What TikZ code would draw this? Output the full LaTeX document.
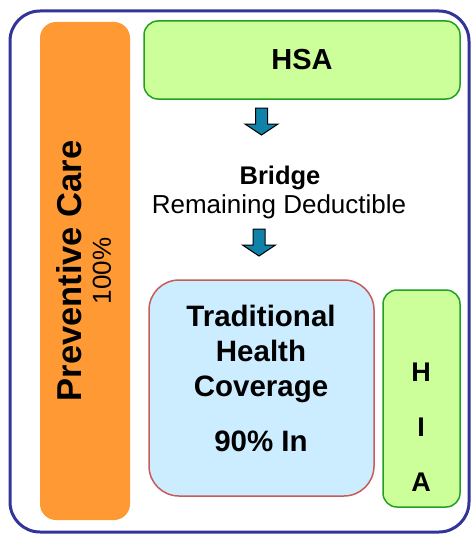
\documentclass[tikz,border=0pt]{standalone}
\usepackage{fontspec}
\setmainfont{Liberation Sans}
\usepackage{tikz}
\usetikzlibrary{positioning}

\definecolor{frameblue}{RGB}{51,51,153}
\definecolor{careorange}{RGB}{255,153,51}
\definecolor{hsafill}{RGB}{204,255,153}
\definecolor{hsaline}{RGB}{34,160,34}
\definecolor{tradfill}{RGB}{204,236,255}
\definecolor{tradline}{RGB}{200,90,90}
\definecolor{arrowblue}{RGB}{16,130,170}

\begin{document}
\begin{tikzpicture}[x = 1pt, y = -1pt,
    greenbox/.style = {draw = hsaline, fill = hsafill, line width = 1.5pt,
        rounded corners = 14pt, inner sep = 0pt},
    flowarrow/.style = {draw = black, fill = arrowblue, line width = 1pt,
        line join = miter}]
    \useasboundingbox (0, 0) rectangle (471, 535);

    %% frame
    \draw[frameblue, line width = 3pt, rounded corners = 30pt] (10, 11) rectangle (469, 532);

    %% preventive care
    \node[fill = careorange, rounded corners = 16pt, minimum width = 90pt,
        minimum height = 498pt, inner sep = 0pt] (prev) at (85, 271) {};
    \node[rotate = 90, font = \bfseries\fontsize{34.5}{40}\selectfont] (prevtext) at (69, 271) {Preventive Care};
    \node[rotate = 90, font = \fontsize{26}{30}\selectfont] (prevpct) at (102, 271) {100\%};

    %% hsa
    \node[greenbox, minimum width = 316pt, minimum height = 78pt,
        font = \bfseries\fontsize{29}{33}\selectfont] (hsa) at (302, 60) {HSA};

    %% bridge
    \node[anchor = base, font = \bfseries\fontsize{25.5}{30}\selectfont] (bridge) at (280, 184) {Bridge};
    \node[anchor = base, font = \fontsize{26}{30}\selectfont] (remain) at (279, 213) {Remaining Deductible};

    %% arrows
    \foreach \ax/\ay in {261.5/108, 259/229}
        \draw[flowarrow] ({\ax - 6}, \ay) -- ++(12, 0) -- ++(0, 16) -- ++(10.5, 0)
            -- ++(-16.5, 11) -- ++(-16.5, -11) -- ++(10.5, 0) -- cycle;

    %% traditional coverage
    \node[draw = tradline, fill = tradfill, line width = 1.5pt, rounded corners = 30pt,
        minimum width = 225pt, minimum height = 216pt, inner sep = 0pt] (trad) at (261.5, 388) {};
    \node[align = center, font = \bfseries\fontsize{29.5}{35}\selectfont] (tradtext) at (261, 378)
        {Traditional\\Health\\Coverage\\[20pt]90\% In};

    %% hia
    \node[greenbox, minimum width = 77pt, minimum height = 217pt] (hia) at (421.5, 398.5) {};
    \node[align = center, font = \bfseries\fontsize{27}{55}\selectfont] (hiatext) at (421, 427) {H\\I\\A};
\end{tikzpicture}
\end{document}
